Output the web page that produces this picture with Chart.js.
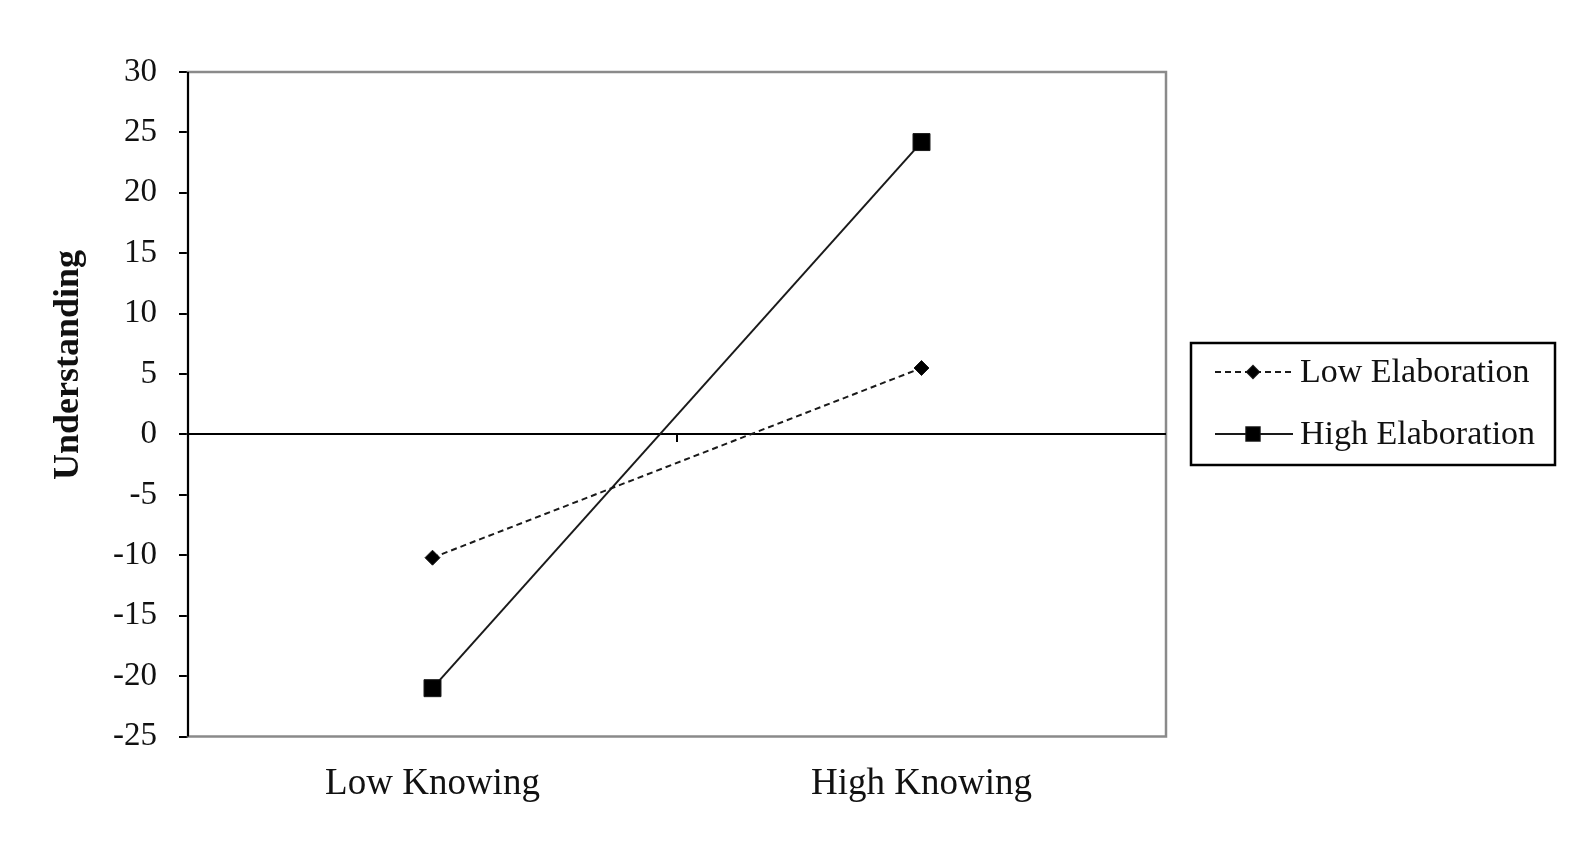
<!DOCTYPE html>
<html>
<head>
<meta charset="utf-8">
<script src="https://cdn.jsdelivr.net/npm/chart.js@4/dist/chart.umd.min.js"></script>
<style>
  body { margin: 0; background: #fff; }
  #wrap { width: 1576px; height: 868px; }
</style>
</head>
<body>
<div id="wrap"><canvas id="chart" width="1576" height="868"></canvas></div>
<script>
var categories = ['Low Knowing', 'High Knowing'];
var lowElaboration = [-10.2, 5.5];
var highElaboration = [-21.0, 24.2];
var yTicks = [-25, -20, -15, -10, -5, 0, 5, 10, 15, 20, 25, 30];
var yTitle = 'Understanding';

var serif = "'Liberation Serif', 'Times New Roman', serif";

// frame, zero line, axis title and boxed legend, drawn the Excel way
var excelLook = {
    id: 'excelLook',
    beforeDatasetsDraw: function(chart) {
        var ctx = chart.ctx, a = chart.chartArea;
        var y = chart.scales.y, x = chart.scales.x;
        ctx.save();
        ctx.strokeStyle = '#8a8a8a';
        ctx.lineWidth = 2.5;
        ctx.strokeRect(a.left, a.top, a.right - a.left, a.bottom - a.top);
        ctx.strokeStyle = '#000';
        ctx.lineWidth = 2;
        ctx.beginPath();
        ctx.moveTo(a.left, a.top);
        ctx.lineTo(a.left, a.bottom);
        var y0 = Math.round(y.getPixelForValue(0));
        ctx.moveTo(a.left, y0);
        ctx.lineTo(a.right, y0);
        var mid = (x.getPixelForValue(0) + x.getPixelForValue(1)) / 2;
        ctx.moveTo(mid, y0);
        ctx.lineTo(mid, y0 + 8);
        ctx.stroke();

        // y title sits a bit above the axis middle in the original
        ctx.translate(69, 365);
        ctx.rotate(-Math.PI / 2);
        ctx.font = 'bold 36px ' + serif;
        ctx.fillStyle = '#111';
        ctx.textAlign = 'center';
        ctx.textBaseline = 'middle';
        ctx.fillText(yTitle, 0, 0);
        ctx.restore();
    },
    afterDraw: function(chart) {
        var ctx = chart.ctx;
        var bx = 1191, by = 343, bw = 364, bh = 122;
        var legendRadius = [6, 9.5];
        ctx.save();
        ctx.strokeStyle = '#000';
        ctx.lineWidth = 2.5;
        ctx.strokeRect(bx, by, bw, bh);
        chart.data.datasets.forEach(function(ds, i) {
            var ry = by + 29 + i * 62;
            ctx.strokeStyle = ds.borderColor;
            ctx.lineWidth = 2;
            ctx.setLineDash(ds.borderDash || []);
            ctx.beginPath();
            ctx.moveTo(bx + 24, ry);
            ctx.lineTo(bx + 102, ry);
            ctx.stroke();
            ctx.setLineDash([]);
            Chart.helpers.drawPoint(ctx, {
                pointStyle: ds.pointStyle,
                radius: legendRadius[i],
                borderWidth: 1
            }, bx + 62, ry);
            ctx.fillStyle = '#000';
            ctx.fill();
            ctx.font = '34px ' + serif;
            ctx.fillStyle = '#111';
            ctx.textBaseline = 'middle';
            ctx.fillText(ds.label, bx + 109, ry + 1);
        });
        ctx.restore();
    }
};

new Chart(document.getElementById('chart'), {
    type: 'line',
    data: {
        labels: categories,
        datasets: [{
            label: 'Low Elaboration',
            data: lowElaboration,
            borderColor: '#1a1a1a',
            backgroundColor: '#000',
            borderWidth: 2,
            borderDash: [6, 4],
            pointStyle: 'rectRot',
            pointRadius: 7.5,
            pointBorderWidth: 1,
            tension: 0
        }, {
            label: 'High Elaboration',
            data: highElaboration,
            borderColor: '#1a1a1a',
            backgroundColor: '#000',
            borderWidth: 2,
            pointStyle: 'rect',
            pointRadius: 12,
            pointBorderWidth: 1,
            tension: 0
        }]
    },
    options: {
        responsive: false,
        animation: false,
        layout: { padding: { top: 72, right: 410, bottom: 0, left: 0 } },
        plugins: {
            legend: { display: false },
            tooltip: { enabled: false }
        },
        scales: {
            x: {
                offset: true,
                grid: { display: false },
                border: { display: false },
                afterFit: function(axis) { axis.height = 131.5; },
                ticks: {
                    color: '#111',
                    font: { family: serif, size: 37 },
                    padding: 18
                }
            },
            y: {
                min: -25,
                max: 30,
                afterBuildTicks: function(axis) {
                    axis.ticks = yTicks.map(function(v) { return { value: v }; });
                },
                afterFit: function(axis) { axis.width = 188; },
                grid: {
                    drawOnChartArea: false,
                    tickLength: 9,
                    tickColor: '#000',
                    lineWidth: 2
                },
                border: { display: false },
                ticks: {
                    color: '#111',
                    font: { family: serif, size: 33 },
                    padding: 22
                }
            }
        }
    },
    plugins: [excelLook]
});
</script>
</body>
</html>
